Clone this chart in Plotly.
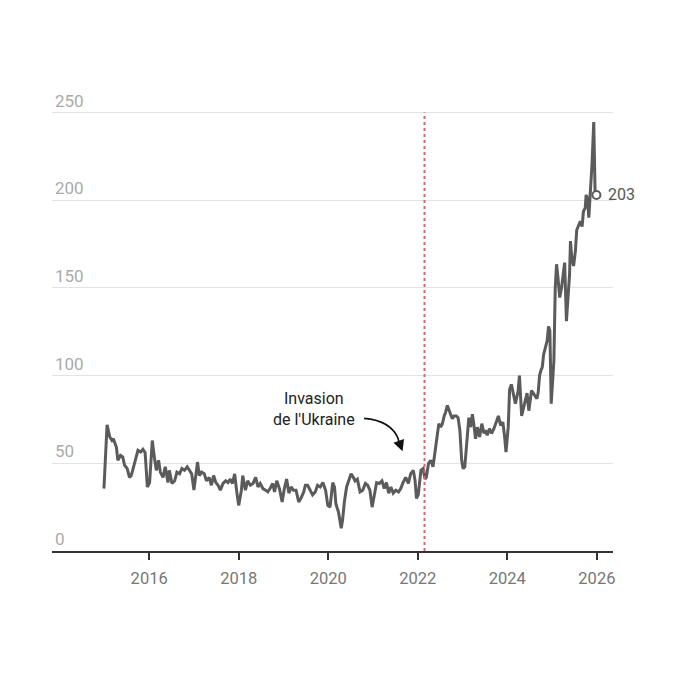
import plotly.graph_objects as go

# decimal years
years = [
    2014.99, 2015.06, 2015.12, 2015.17, 2015.20, 2015.27, 2015.30, 2015.36, 2015.41, 2015.45,
    2015.51, 2015.56, 2015.60, 2015.64, 2015.69, 2015.75, 2015.81, 2015.86, 2015.91, 2015.96,
    2016.01, 2016.07, 2016.12, 2016.16, 2016.21, 2016.25, 2016.31, 2016.36, 2016.42, 2016.45,
    2016.51, 2016.57, 2016.62, 2016.68, 2016.73, 2016.79, 2016.85, 2016.90, 2016.95, 2017.00,
    2017.05, 2017.08, 2017.12, 2017.17, 2017.23, 2017.28, 2017.34, 2017.39, 2017.44, 2017.49,
    2017.54, 2017.59, 2017.65, 2017.71, 2017.76, 2017.81, 2017.86, 2017.91, 2017.96, 2018.00,
    2018.06, 2018.09, 2018.15, 2018.20, 2018.26, 2018.32, 2018.38, 2018.43, 2018.48, 2018.54,
    2018.60, 2018.65, 2018.70, 2018.76, 2018.80, 2018.85, 2018.91, 2018.97, 2019.02, 2019.07,
    2019.12, 2019.17, 2019.22, 2019.28, 2019.34, 2019.39, 2019.45, 2019.49, 2019.54, 2019.59,
    2019.65, 2019.71, 2019.76, 2019.82, 2019.88, 2019.94, 2019.99, 2020.04, 2020.10, 2020.14,
    2020.17, 2020.23, 2020.29, 2020.32, 2020.36, 2020.41, 2020.47, 2020.51, 2020.56, 2020.60,
    2020.65, 2020.71, 2020.77, 2020.83, 2020.88, 2020.93, 2020.98, 2021.03, 2021.08, 2021.14,
    2021.20, 2021.25, 2021.30, 2021.35, 2021.40, 2021.45, 2021.51, 2021.57, 2021.62, 2021.67,
    2021.73, 2021.79, 2021.84, 2021.90, 2021.94, 2021.97, 2022.01, 2022.07, 2022.12, 2022.16,
    2022.19, 2022.24, 2022.29, 2022.34, 2022.40, 2022.44, 2022.47, 2022.51, 2022.55, 2022.59,
    2022.62, 2022.66, 2022.70, 2022.73, 2022.77, 2022.81, 2022.86, 2022.90, 2022.94, 2022.98,
    2023.01, 2023.05, 2023.10, 2023.14, 2023.18, 2023.22, 2023.25, 2023.29, 2023.33, 2023.38,
    2023.43, 2023.48, 2023.51, 2023.55, 2023.60, 2023.65, 2023.70, 2023.75, 2023.80, 2023.85,
    2023.90, 2023.94, 2023.97, 2024.02, 2024.05, 2024.09, 2024.15, 2024.18, 2024.24, 2024.27,
    2024.32, 2024.37, 2024.41, 2024.44, 2024.48, 2024.54, 2024.59, 2024.63, 2024.66, 2024.69,
    2024.72, 2024.75, 2024.78, 2024.81, 2024.85, 2024.89, 2024.92, 2024.95, 2024.98, 2025.01,
    2025.04, 2025.07, 2025.10, 2025.13, 2025.17, 2025.21, 2025.24, 2025.28, 2025.32, 2025.35,
    2025.39, 2025.41, 2025.44, 2025.48, 2025.52, 2025.55, 2025.59, 2025.63, 2025.67, 2025.70,
    2025.74, 2025.76, 2025.79, 2025.82, 2025.85, 2025.89, 2025.93, 2025.96, 2025.99,
]
values = [
    35.6, 72, 65, 63, 64, 59, 51.7, 54.5, 53.6, 49,
    47, 42, 43, 47, 53, 57.4, 56.4, 58, 56, 36.5,
    39, 63, 52.7, 46, 51.7, 45, 42, 48, 39, 46,
    38.5, 40, 45, 44, 47, 46, 48, 46, 44, 34.7,
    47, 50.7, 43, 45, 44, 40, 42, 37.5, 43, 39,
    37.5, 34.7, 38.5, 40, 39, 41, 38.5, 44, 33, 26,
    34.7, 43, 34.7, 40, 37.5, 38.5, 42, 36.5, 38.5, 35.6,
    34.7, 33.7, 35.6, 38.5, 33.7, 40, 35.6, 28, 35.6, 41,
    33, 36.5, 34.7, 34.7, 28, 30, 33.5, 37.5, 37.5, 34.7,
    32, 33.7, 37.5, 36.5, 39, 34.7, 26, 25, 39, 36.5,
    27, 22, 13, 17.6, 28, 36.5, 41, 44, 42, 40,
    41, 33.7, 34.7, 38.5, 37.5, 34.7, 25, 32, 39, 38.5,
    40, 35.6, 39, 33, 36.5, 33, 34.7, 33.7, 35.6, 39,
    42, 38.5, 44, 46, 40, 30, 32, 46, 47, 41,
    42, 50, 51.7, 48, 59, 68, 72.6, 70.6, 72.6, 77,
    79, 83, 80, 78, 75.4, 77, 77, 76, 68.8, 51.7,
    47, 48, 67, 76, 70.6, 78, 72.6, 64, 70.6, 65,
    72.6, 67, 68.8, 66, 69.7, 67, 69.7, 73.5, 77, 71.6,
    73.5, 65, 56.4, 70.6, 92, 95, 88, 84, 91, 100,
    77, 83, 86, 90, 80, 91.5, 89.6, 88, 86.8, 90.5,
    100, 103, 104.7, 112, 116, 120, 128, 125.6, 84, 95,
    108.5, 150, 163.5, 156, 144.5, 150, 157.8, 164.4, 131, 142.6,
    157.8, 176.7, 167, 162.5, 171, 183, 186, 188, 185, 193.7,
    195.6, 203, 201, 190, 203, 220, 244.5, 205, 203,
]

invasion = 2022.15
x_ticks = [2016, 2018, 2020, 2022, 2024, 2026]
y_ticks = [0, 50, 100, 150, 200, 250]

line_color = "#5b5b5b"

fig = go.Figure()
fig.add_trace(go.Scatter(
    x=years, y=values, mode="lines",
    line=dict(color=line_color, width=3), hoverinfo="skip",
))
fig.add_trace(go.Scatter(
    x=[years[-1]], y=[values[-1]], mode="markers",
    marker=dict(size=8, color="white", line=dict(color=line_color, width=2)),
    cliponaxis=False, hoverinfo="skip",
))

fig.add_shape(type="line", x0=invasion, x1=invasion, y0=0, y1=250,
              xref="x", yref="y", line=dict(color="#e0636b", width=2, dash="dot"))

# curved arrow towards the invasion date
fig.add_shape(type="path", xref="x", yref="y",
              path="M 2020.80,75.6 Q 2021.41,74.4 2021.57,63.5",
              line=dict(color="#111111", width=1.6))
fig.add_annotation(x=2021.66, y=56.8, ax=2021.55, ay=64.5, axref="x", ayref="y",
                   text="", showarrow=True, arrowhead=2, arrowsize=1.4,
                   arrowwidth=1.6, arrowcolor="#111111")

fig.add_annotation(x=2019.69, y=81, text="Invasion<br>de l'Ukraine",
                   showarrow=False, xanchor="center", yanchor="middle",
                   font=dict(size=16, color="#222222"))

fig.add_annotation(x=years[-1], y=values[-1], text=str(round(values[-1])),
                   showarrow=False, xanchor="left", xshift=10,
                   font=dict(size=16, color="#555555"))

# the page body has an 8px margin, so the margins are shifted to compensate
fig.update_layout(
    width=688, height=688,
    margin=dict(l=44, r=83, t=101, b=145),
    paper_bgcolor="white", plot_bgcolor="white",
    showlegend=False,
    font=dict(family="Roboto", size=16),
    xaxis=dict(
        range=[2013.83, 2026.36], tickvals=x_ticks,
        ticks="outside", ticklen=7, tickwidth=1.5, tickcolor="#333333",
        showline=True, linecolor="#333333", linewidth=1.5,
        showgrid=False, zeroline=False, ticklabelstandoff=4,
        tickfont=dict(size=16.5, color="#777777"),
    ),
    yaxis=dict(
        range=[0, 252], tickvals=y_ticks,
        ticklabelposition="inside top", ticklabeloverflow="allow",
        gridcolor="#e3e3e3", gridwidth=1,
        zeroline=False, showline=False,
        tickfont=dict(size=17, color="#aaaaaa"),
    ),
)

fig.write_html("out.html")
